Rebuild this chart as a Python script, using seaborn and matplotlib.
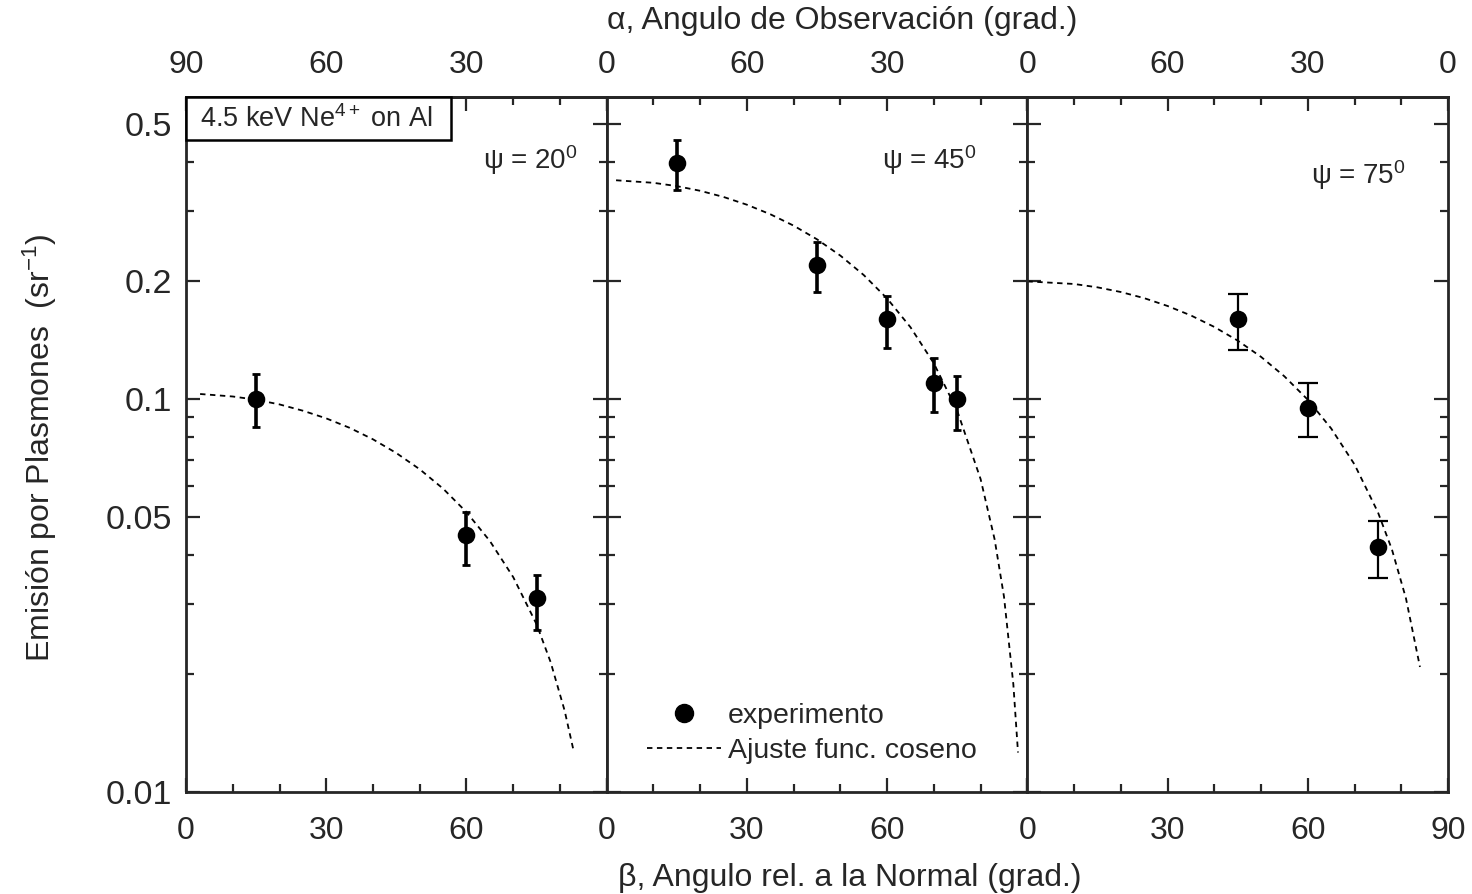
import matplotlib
matplotlib.use("Agg")
import matplotlib.pyplot as plt
from matplotlib.lines import Line2D
from matplotlib.patches import Rectangle
import numpy as np
import pandas as pd
import seaborn as sns

# ---------------- data ----------------
panels = ["ψ = 20$^0$", "ψ = 45$^0$", "ψ = 75$^0$"]

# experimental points (beta in degrees, emission in sr^-1)
exp_beta_20 = [15, 60, 75]
exp_val_20 = [0.100, 0.0451, 0.0312]
exp_lo_20 = [0.085, 0.0378, 0.0258]
exp_hi_20 = [0.116, 0.0517, 0.0356]

exp_beta_45 = [15, 45, 60, 70, 75]
exp_val_45 = [0.398, 0.219, 0.160, 0.110, 0.100]
exp_lo_45 = [0.340, 0.187, 0.135, 0.0927, 0.0834]
exp_hi_45 = [0.456, 0.251, 0.183, 0.127, 0.1145]

exp_beta_75 = [45, 60, 75]
exp_val_75 = [0.160, 0.0948, 0.042]
exp_lo_75 = [0.133, 0.080, 0.0351]
exp_hi_75 = [0.185, 0.110, 0.049]

# cosine-fit curves
fit_beta_20 = [3, 10, 15, 20, 25, 30, 35, 40, 45, 50, 55, 60, 65, 70, 75, 78, 81, 83]
fit_val_20 = [0.1029, 0.1014, 0.0995, 0.0968, 0.0933, 0.0892, 0.0844, 0.0789,
              0.0728, 0.0662, 0.0591, 0.0515, 0.0435, 0.0352, 0.0267, 0.0214,
              0.0161, 0.0126]
fit_beta_45 = [2, 10, 15, 20, 25, 30, 35, 40, 45, 50, 55, 60, 65, 70, 75, 80, 83,
               85, 87, 88]
fit_val_45 = [0.3598, 0.3545, 0.3477, 0.3383, 0.3263, 0.3118, 0.2949, 0.2758,
              0.2546, 0.2314, 0.2065, 0.180, 0.1521, 0.1231, 0.0932, 0.0625,
              0.0439, 0.0314, 0.0188, 0.0126]
fit_beta_75 = [0, 10, 15, 20, 25, 30, 35, 40, 45, 50, 55, 60, 65, 70, 75, 78, 81, 84]
fit_val_75 = [0.199, 0.196, 0.1922, 0.187, 0.1804, 0.1723, 0.163, 0.1524, 0.1407,
              0.1279, 0.1141, 0.0995, 0.0841, 0.0681, 0.0515, 0.0414, 0.0311,
              0.0208]

bottom_labels = [["0", "30", "60", ""], ["0", "30", "60", ""], ["0", "30", "60", "90"]]
top_labels = [["90", "60", "30", "0"], ["", "60", "30", "0"], ["", "60", "30", "0"]]
ytick_vals = [0.01, 0.05, 0.1, 0.2, 0.5]
ytick_labels = ["0.01", "0.05", "0.1", "0.2", "0.5"]

exp_sets = [
    (exp_beta_20, exp_val_20, exp_lo_20, exp_hi_20),
    (exp_beta_45, exp_val_45, exp_lo_45, exp_hi_45),
    (exp_beta_75, exp_val_75, exp_lo_75, exp_hi_75),
]
fit_sets = [(fit_beta_20, fit_val_20), (fit_beta_45, fit_val_45), (fit_beta_75, fit_val_75)]

# ---------------- style ----------------
sns.set_style("ticks")
plt.rcParams["font.family"] = ["Liberation Sans", "DejaVu Sans"]
plt.rcParams["mathtext.fontset"] = "custom"
plt.rcParams["mathtext.rm"] = "Liberation Sans"
plt.rcParams["mathtext.it"] = "Liberation Sans:italic"

fig, axes = plt.subplots(1, 3, figsize=(14.72, 8.94), dpi=100)
fig.subplots_adjust(left=0.1264, right=0.9837, bottom=0.1141, top=0.8915, wspace=0)

psi_pos = [(0.818, 0.909), (0.767, 0.909), (0.788, 0.888)]
dash = (0, (3, 2.5))

for i, ax in enumerate(axes):
    bx, by, lo, hi = exp_sets[i]
    fb, fv = fit_sets[i]
    fit_df = pd.DataFrame({"beta": fb, "val": fv})
    exp_df = pd.DataFrame({"beta": bx, "val": by})

    sns.lineplot(data=fit_df, x="beta", y="val", ax=ax, color="black", lw=1.3,
                 linestyle=dash, legend=False, zorder=2)
    yerr = [np.array(by) - np.array(lo), np.array(hi) - np.array(by)]
    if i < 2:
        ax.errorbar(bx, by, yerr=yerr, fmt="none", ecolor="black", elinewidth=2.6,
                    capsize=3, capthick=2, zorder=3)
    else:
        ax.errorbar(bx, by, yerr=yerr, fmt="none", ecolor="black", elinewidth=1.6,
                    capsize=7, capthick=1.6, zorder=3)
    sns.scatterplot(data=exp_df, x="beta", y="val", ax=ax, color="black", s=160,
                    edgecolor="black", linewidth=0, legend=False, zorder=4)

    ax.set_yscale("log")
    ax.set_xlim(0, 90)
    ax.set_ylim(0.01, 0.586)
    ax.set_xlabel("")
    ax.set_ylabel("")
    ax.set_xticks([0, 30, 60, 90], labels=bottom_labels[i])
    ax.set_xticks([10, 20, 40, 50, 70, 80], minor=True)
    ax.set_yticks(ytick_vals, labels=ytick_labels)
    ax.set_yticks([0.02, 0.03, 0.04, 0.06, 0.07, 0.08, 0.09, 0.3, 0.4], minor=True)
    ax.yaxis.set_minor_formatter(matplotlib.ticker.NullFormatter())
    ax.tick_params(axis="both", which="both", direction="in", top=False, right=True,
                   width=1.6)
    ax.tick_params(axis="both", which="major", length=10)
    ax.tick_params(axis="both", which="minor", length=6)
    ax.tick_params(axis="x", which="major", labelsize=23, pad=17)
    ax.tick_params(axis="y", which="major", labelsize=24.5, pad=10,
                   labelleft=(i == 0))
    for sp in ax.spines.values():
        sp.set_linewidth(2)
        sp.set_visible(True)

    sec = ax.secondary_xaxis("top", functions=(lambda b: 90 - b, lambda a: 90 - a))
    sec.set_xticks([90, 60, 30, 0], labels=top_labels[i])
    sec.set_xticks([80, 70, 50, 40, 20, 10], minor=True)
    sec.tick_params(axis="x", which="both", direction="in", width=1.6)
    sec.tick_params(axis="x", which="major", length=10, labelsize=23, pad=12)
    sec.tick_params(axis="x", which="minor", length=6)
    sec.spines["top"].set_linewidth(2)

    ax.text(psi_pos[i][0], psi_pos[i][1], panels[i], transform=ax.transAxes,
            ha="center", va="center", fontsize=20)

# label box in first panel
axes[0].add_patch(Rectangle((0.0, 0.938), 0.630, 0.062, transform=axes[0].transAxes,
                            facecolor="white", edgecolor="black", linewidth=1.8,
                            zorder=5, clip_on=False))
axes[0].text(0.033, 0.968, "4.5 keV Ne$^{4+}$ on Al", transform=axes[0].transAxes,
             ha="left", va="center", fontsize=19.5, zorder=6)

handles = [
    Line2D([], [], marker="o", color="black", linestyle="none", markersize=13),
    Line2D([], [], color="black", lw=1.3, linestyle=dash),
]
axes[1].legend(handles, ["experimento", "Ajuste func. coseno"], loc="lower left",
               bbox_to_anchor=(0.095, 0.04), frameon=False, fontsize=20.5,
               handlelength=2.6, handletextpad=0.25, labelspacing=0.32,
               borderpad=0, borderaxespad=0)

fig.text(0.577, 0.018, "β, Angulo rel. a la Normal (grad.)", ha="center",
         va="center", fontsize=23)
fig.text(0.572, 0.976, "α, Angulo de Observación (grad.)", ha="center", va="center",
         fontsize=23)
fig.text(0.027, 0.499, "Emisión por Plasmones  (sr$^{-1}$)", rotation=90, ha="center",
         va="center", fontsize=23)

fig.savefig("out.png", dpi=100, facecolor="white")
